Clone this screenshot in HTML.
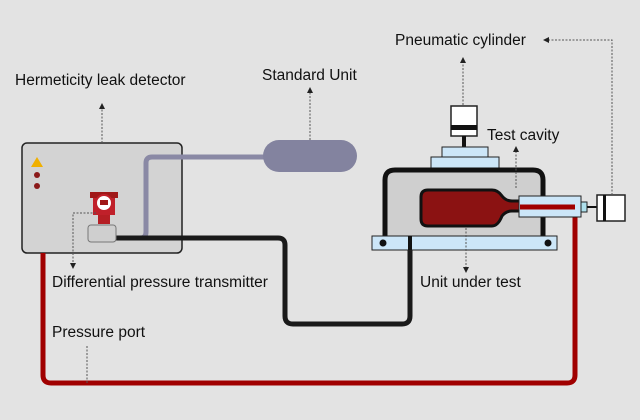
<!DOCTYPE html>
<html><head><style>html,body{margin:0;padding:0;background:#e3e3e3}svg{display:block}text{font-family:"Liberation Sans",sans-serif;font-size:15.5px;fill:#111}</style></head><body>
<svg width="640" height="420" viewBox="0 0 640 420">
<defs><marker id="a" markerWidth="6" markerHeight="6" refX="3" refY="3" orient="auto"><path d="M0,0L6,3L0,6z" fill="#222"/></marker></defs>
<rect width="640" height="420" fill="#e3e3e3"/>
<rect x="22" y="143" width="160" height="110" rx="5" fill="#d3d3d3" stroke="#222" stroke-width="1.5"/>
<path d="M37,157L43,167L31,167z" fill="#f0b000"/>
<circle cx="37" cy="175" r="3" fill="#8b1a1a"/><circle cx="37" cy="186" r="3" fill="#8b1a1a"/>
<path d="M115,238H140Q146,238 146,232V163Q146,157 152,157H268" fill="none" stroke="#8a89a5" stroke-width="5"/>
<rect x="263" y="140" width="94" height="32" rx="16" fill="#83839f"/>
<path d="M115,238H278Q285,238 285,245V316Q285,324 293,324H402Q410,324 410,316V236" fill="none" stroke="#1a1a1a" stroke-width="5"/>
<path d="M43,253V375Q43,383 51,383H567Q575,383 575,375V212Q575,207 570,207H505" fill="none" stroke="#a00000" stroke-width="5"/>
<rect x="93" y="193" width="22" height="22" fill="#c0202a"/>
<rect x="90" y="192" width="28" height="6" fill="#a01818"/>
<circle cx="104" cy="203" r="8" fill="#fff" stroke="#c0202a" stroke-width="2"/>
<rect x="100" y="200" width="8" height="5" fill="#a01818"/>
<rect x="98" y="215" width="12" height="9" fill="#b51e24"/>
<rect x="88" y="225" width="28" height="17" rx="3" fill="#cfcfcf" stroke="#777"/>
<rect x="451" y="106" width="26" height="30" fill="#fff" stroke="#222" stroke-width="1.5"/>
<rect x="451" y="125" width="26" height="5" fill="#111"/>
<rect x="462" y="136" width="4" height="11" fill="#111"/>
<rect x="442" y="147" width="46" height="10" fill="#cce6f8" stroke="#222"/>
<rect x="431" y="157" width="68" height="11" fill="#cce6f8" stroke="#222"/>
<path d="M385,245V180Q385,170 395,170H533Q543,170 543,180V245" fill="#cfcfcf" stroke="#111" stroke-width="5"/>
<path d="M428,190H492Q498,190 502,196Q506,201 512,201H520V211H512Q506,211 502,216Q498,226 492,226H428Q421,226 421,219V197Q421,190 428,190z" fill="#8b1212" stroke="#111" stroke-width="3"/>
<rect x="519" y="196" width="62" height="21" fill="#cce6f8" stroke="#222"/>
<path d="M520,207H575" stroke="#a00000" stroke-width="5"/>
<rect x="581" y="202" width="6" height="10" fill="#aee0ec" stroke="#222"/>
<path d="M587,207H597" stroke="#111" stroke-width="2"/>
<rect x="597" y="195" width="28" height="26" fill="#fff" stroke="#222" stroke-width="1.5"/>
<rect x="603" y="195" width="3" height="26" fill="#111"/>
<rect x="372" y="236" width="185" height="14" fill="#cce6f8" stroke="#222"/>
<circle cx="383" cy="243" r="3.5" fill="#111"/><circle cx="548" cy="243" r="3.5" fill="#111"/>
<rect x="408" y="236" width="4" height="14" fill="#111"/>
<g fill="none" stroke="#555" stroke-width="1" stroke-dasharray="2,1.5">
<path d="M463,105V60" marker-end="url(#a)"/>
<path d="M612,195V40H546" marker-end="url(#a)"/>
<path d="M516,188V149" marker-end="url(#a)"/>
<path d="M102,143V106" marker-end="url(#a)"/>
<path d="M310,140V90" marker-end="url(#a)"/>
<path d="M96,213H73V266" marker-end="url(#a)"/>
<path d="M466,228V270" marker-end="url(#a)"/>
<path d="M87,383V345"/>
</g>
<text x="395" y="45">Pneumatic cylinder</text>
<text x="487" y="140">Test cavity</text>
<text x="15" y="85">Hermeticity leak detector</text>
<text x="262" y="80">Standard Unit</text>
<text x="52" y="287">Differential pressure transmitter</text>
<text x="420" y="287">Unit under test</text>
<text x="52" y="337">Pressure port</text>
</svg>
</body></html>
